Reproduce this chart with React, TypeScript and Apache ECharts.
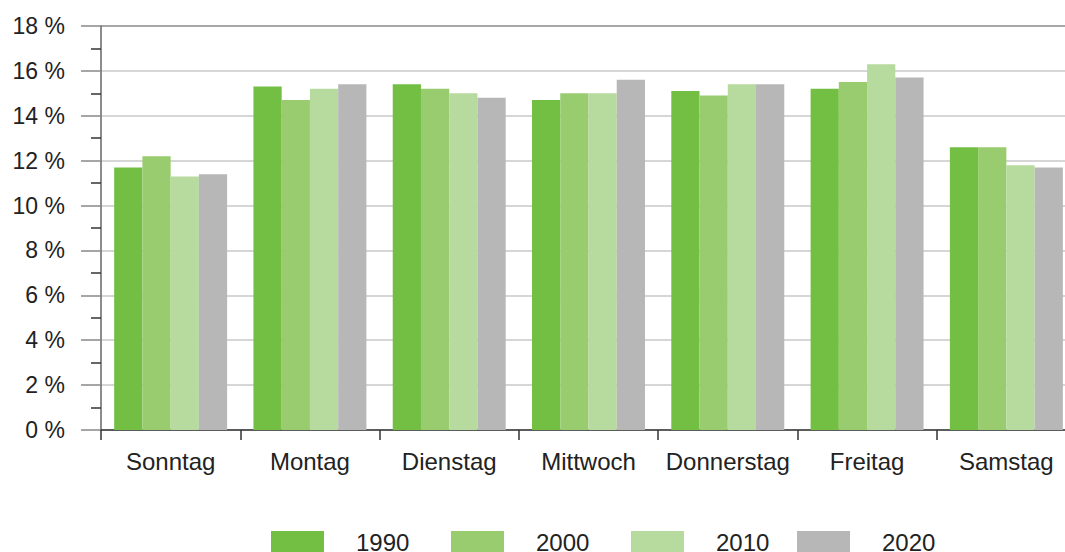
import React, { useEffect, useRef } from "react";
import * as echarts from "echarts";

const categories = ["Sonntag", "Montag", "Dienstag", "Mittwoch", "Donnerstag", "Freitag", "Samstag"];
const seriesNames = ["1990", "2000", "2010", "2020"];
const values1990 = [11.7, 15.3, 15.4, 14.7, 15.1, 15.2, 12.6];
const values2000 = [12.2, 14.7, 15.2, 15.0, 14.9, 15.5, 12.6];
const values2010 = [11.3, 15.2, 15.0, 15.0, 15.4, 16.3, 11.8];
const values2020 = [11.4, 15.4, 14.8, 15.6, 15.4, 15.7, 11.7];
const colors = ["#72bf44", "#98cc6f", "#b7da9e", "#b7b7b7"];
const legendLefts = [271, 451, 631, 797];

const FONT = "'Liberation Sans', Arial, sans-serif";

export default function App() {
  const ref = useRef<HTMLDivElement>(null);

  useEffect(() => {
    if (!ref.current) return;
    const chart = echarts.init(ref.current, null, { renderer: "svg" });
    const allValues = [values1990, values2000, values2010, values2020];
    const gridColors = ["#c8c8c8", "#c8c8c8", "#c8c8c8", "#c8c8c8", "#c8c8c8", "#c8c8c8", "#c8c8c8", "#c8c8c8", "#c8c8c8", "#8a8a8a"];
    chart.setOption({
      animation: false,
      textStyle: { fontFamily: FONT },
      grid: { left: 101, top: 26, width: 975, height: 404 },
      legend: seriesNames.map((name, i) => ({
        left: legendLefts[i],
        top: 530,
        padding: 0,
        itemWidth: 53,
        itemHeight: 22,
        icon: "rect",
        textStyle: { fontSize: 24, lineHeight: 20, color: "#222", fontFamily: FONT, padding: [0, 0, 0, 27] },
        data: [name],
      })),
      xAxis: {
        type: "category",
        data: categories,
        axisLine: { show: true, lineStyle: { color: "#333", width: 1.5 } },
        axisTick: { show: true, alignWithLabel: false, interval: 0, length: 10, lineStyle: { color: "#333", width: 1.5 } },
        axisLabel: { interval: 0, fontSize: 24, color: "#222", margin: 19, fontFamily: FONT },
        splitLine: { show: false },
      },
      yAxis: {
        type: "value",
        min: 0,
        max: 18,
        interval: 2,
        axisLine: { show: true, lineStyle: { color: "#666", width: 1.5 } },
        axisTick: { show: true, inside: false, length: 20, lineStyle: { color: "#888", width: 1.5 } },
        minorTick: { show: true, splitNumber: 2, length: 10, lineStyle: { color: "#333", width: 1.5 } },
        splitLine: { show: true, lineStyle: { color: gridColors, width: 1.5 } },
        axisLabel: { formatter: "{value} %", fontSize: 23, color: "#222", margin: 36, fontFamily: FONT },
      },
      series: seriesNames.map((name, i) => ({
        name,
        type: "bar",
        data: allValues[i],
        barGap: "0%",
        barCategoryGap: "18.9%",
        itemStyle: { color: colors[i] },
      })),
    });
    return () => chart.dispose();
  }, []);

  return (
    <div style={{ position: "absolute", left: 0, top: 0, width: 1065, height: 552, overflow: "hidden", background: "#fff" }}>
      <div ref={ref} style={{ width: 1085, height: 552 }} />
    </div>
  );
}
